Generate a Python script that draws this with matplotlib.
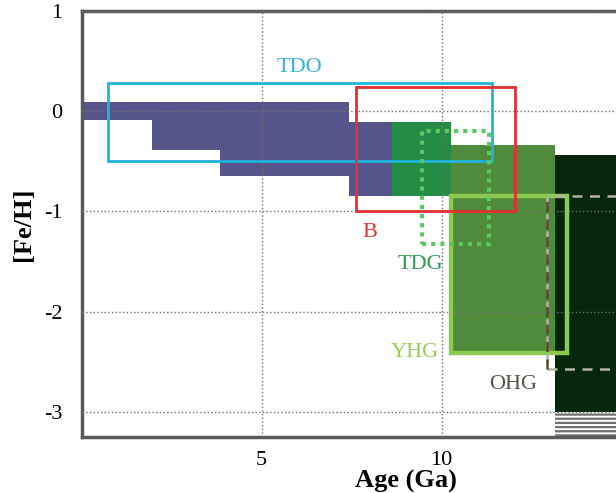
import matplotlib
matplotlib.use("Agg")
import matplotlib.pyplot as plt
from matplotlib.patches import Rectangle

plt.rcParams['font.family'] = ['Liberation Serif', 'DejaVu Serif']
plt.rcParams['axes.unicode_minus'] = False
plt.rcParams['hatch.linewidth'] = 1.6

# filled age / metallicity blocks (disk staircase, then the green and dark blocks)
block_age_lo = [0.0, 1.94, 3.84, 7.43, 8.61, 10.25, 13.15]
block_age_hi = [1.94, 3.84, 7.43, 8.61, 10.25, 13.15, 18.0]
block_feh_hi = [0.09, 0.09, 0.09, -0.11, -0.11, -0.34, -0.44]
block_feh_lo = [-0.09, -0.39, -0.65, -0.85, -0.85, -2.41, -3.0]
block_colors = ['#55558c', '#55558c', '#55558c', '#55558c', '#248c44', '#4f8b3b', '#07270b']

# outlined boxes
box_labels = ['TDO', 'B', 'TDG', 'YHG', 'OHG']
box_age_lo = [0.74, 7.61, 9.44, 10.25, 12.92]
box_age_hi = [11.39, 12.04, 11.32, 13.47, 17.5]
box_feh_hi = [0.28, 0.24, -0.20, -0.85, -0.85]
box_feh_lo = [-0.50, -1.00, -1.32, -2.41, -2.57]
label_age = [6.06, 8.01, 9.40, 9.24, 11.98]
label_feh = [0.43, -1.21, -1.53, -2.41, -2.72]

x_ticks = [5, 10]
y_ticks = [1, 0, -1, -2, -3]

fig = plt.figure(figsize=(6.16, 4.93), dpi=100)
ax = fig.add_axes([81.7 / 616, 55.7 / 493, 648 / 616, 426.6 / 493])

# blocks
for lo, hi, flo, fhi, c in zip(block_age_lo, block_age_hi, block_feh_lo, block_feh_hi, block_colors):
    ax.bar(lo, fhi - flo, width=hi - lo, bottom=flo, align='edge', color=c, lw=0, zorder=1)

# striped part under the dark block
ax.bar(block_age_lo[-1], 0.5, width=block_age_hi[-1] - block_age_lo[-1], bottom=block_feh_lo[-1] - 0.5,
       align='edge', facecolor='white', edgecolor='#707070', hatch='----', lw=0, zorder=1)

# box styles
styles = {
    'TDO': dict(ec='#1eb4dc', lw=2.0, ls='-'),
    'B': dict(ec='#e53030', lw=2.0, ls='-'),
    'TDG': dict(ec='#5cc864', lw=3.0, ls=(0, (1, 1.2))),
    'YHG': dict(ec='#8dc850', lw=3.2, ls='-'),
    'OHG': dict(ec='#b4b4a4', lw=1.8, ls=(0, (4, 3))),
}
zs = {'TDO': 5, 'B': 6, 'TDG': 5, 'YHG': 4, 'OHG': 4}
for name, lo, hi, flo, fhi in zip(box_labels, box_age_lo, box_age_hi, box_feh_lo, box_feh_hi):
    st = styles[name]
    ax.add_patch(Rectangle((lo, flo), hi - lo, fhi - flo, fill=False, ec=st['ec'], lw=st['lw'],
                           ls=st['ls'], zorder=zs[name]))
# left edge of OHG is darker
i = box_labels.index('OHG')
ax.vlines(box_age_lo[i], box_feh_lo[i], box_feh_hi[i], colors='#5a4a2a', lw=1.8,
          linestyles=(0, (4, 3)), zorder=4.5)

text_colors = ['#38b2d8', '#e03434', '#2e9a55', '#9acb5a', '#55554a']
for name, xa, ya, c in zip(box_labels, label_age, label_feh, text_colors):
    ax.text(xa, ya, name, color=c, fontsize=16, ha='center', va='center', zorder=7)

ax.set_xlim(0, 18)
ax.set_ylim(-3.25, 1.0)
ax.set_xticks(x_ticks)
ax.set_yticks(y_ticks)
ax.grid(True, ls=':', color='#707070', lw=1.0)
ax.set_axisbelow(False)
ax.tick_params(length=0, labelsize=16)
ax.tick_params(axis='x', pad=10)
ax.tick_params(axis='y', pad=14)
for s in ['left', 'bottom', 'top']:
    ax.spines[s].set_linewidth(2.5)
    ax.spines[s].set_color('#5a5a5a')
ax.spines['right'].set_visible(False)

ax.set_xlabel('Age (Ga)', fontsize=19, fontweight='bold', labelpad=0)
ax.set_ylabel('[Fe/H]', fontsize=19, fontweight='bold', labelpad=6)

fig.savefig('out.png', dpi=100)
